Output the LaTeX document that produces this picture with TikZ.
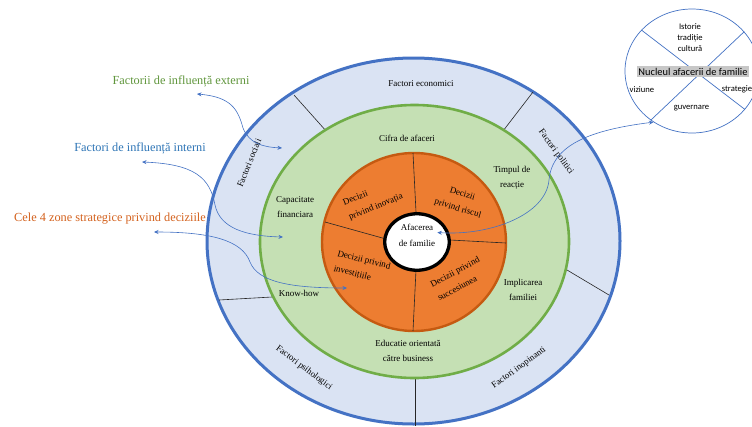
\documentclass[tikz,border=0pt]{standalone}
\usepackage{fontspec}
\setmainfont{Liberation Serif}
\newfontfamily\calibri{Carlito}
\usepackage{tikz}
\usetikzlibrary{shapes.geometric,arrows.meta}
\definecolor{outerfill}{RGB}{218,227,243}
\definecolor{outerline}{RGB}{68,114,196}
\definecolor{midfill}{RGB}{197,224,180}
\definecolor{midline}{RGB}{112,173,71}
\definecolor{innerfill}{RGB}{237,125,49}
\definecolor{innerline}{RGB}{197,90,17}
\definecolor{linkblue}{RGB}{68,114,196}
\definecolor{extgreen}{RGB}{96,150,60}
\definecolor{intblue}{RGB}{46,117,182}
\definecolor{zoneorange}{RGB}{212,98,30}

\begin{document}
\begin{tikzpicture}[
    x=1pt, y=-1pt,
    txt/.style={font=\fontsize{9}{15.5}\selectfont, align=center, inner sep=0pt},
    side/.style={font=\fontsize{12.3}{14}\selectfont, inner sep=0pt},
    nuc/.style={font=\calibri\fontsize{8.6}{11}\selectfont, align=center, inner sep=0pt},
    sep/.style={line width=0.6pt, black!85},
    link/.style={{Stealth[length=4.5pt,width=4pt]}-{Stealth[length=4.5pt,width=4pt]}, line width=0.6pt, linkblue}
]
\fill[white] (0,0) rectangle (752,426);
\clip (0,0) rectangle (752,426);

\filldraw[fill=outerfill, draw=outerline, line width=3pt] (413.5,241) ellipse (206.5pt and 183pt);
\draw[sep] (294,95) -- (327,132);
\draw[sep] (533,92) -- (503,131);
\draw[sep] (567,270) -- (609,295);
\draw[sep] (219,300) -- (272,297);
\draw[sep] (415,378) -- (415,426);

\filldraw[fill=midfill, draw=midline, line width=2.6pt] (414.5,241.5) ellipse (154.5pt and 136.5pt);
\filldraw[fill=innerfill, draw=innerline, line width=2.4pt] (414,242) ellipse (92pt and 89pt);
\draw[sep] (413,153) -- (416,212);
\draw[sep] (325,222) -- (386,239);
\draw[sep] (450,240) -- (506,243);
\draw[sep] (416,270) -- (413,331);

\node[ellipse, draw, line width=3.3pt, fill=white, minimum width=64.5pt, minimum height=56.5pt] (core) at (417,242) {};
\node[txt] (coretxt) at (417,235.5) {Afacerea\\de familie};

\node[txt] (econ) at (421,84) {Factori economici};
\node[txt, rotate=68] (soc) at (249,163) {Factori sociali};
\node[txt, rotate=-54] (pol) at (556,152) {Factori politici};
\node[txt, rotate=-37] (psi) at (304,368) {Factori psihologici};
\node[txt, rotate=36] (inop) at (519,368) {Factori inopinanti};

\node[txt] (cifra) at (407,138) {Cifra de afaceri};
\node[txt] (timp) at (512,178) {Timpul de\\reacție};
\node[txt] (cap) at (295,207) {Capacitate\\financiara};
\node[txt] (impl) at (523,290) {Implicarea\\familiei};
\node[txt] (know) at (299,293) {Know-how};
\node[txt] (edu) at (408,351) {Educatie orientată\\către business};

\node[txt, align=left, rotate=22] (inov) at (373,200) {Decizii\\privind inovația};
\node[txt, rotate=-17] (risc) at (460,201.5) {Decizii\\privind riscul};
\node[txt, align=left, rotate=-14] (inv) at (362,268) {Decizii privind\\investițiile};
\node[txt, align=left, rotate=28] (succ) at (458.5,278.5) {Decizii privind\\succesiunea};

\node[side, text=extgreen] (ext) at (181,81) {Factorii de influență externi};
\node[side, text=intblue] (int) at (140,148) {Factori de influență interni};
\node[side, text=zoneorange] (zone) at (110,219) {Cele 4 zone strategice privind deciziile};

\coordinate (extend) at (197,94);
\coordinate (extring) at (282,148);
\coordinate (intend) at (142,162);
\coordinate (intring) at (283,237);
\coordinate (zoneend) at (154,232);
\coordinate (zonering) at (347,288);

\draw[link] (extend) .. controls (232,97) and (238,110) .. (243,128) .. controls (249,143) and (262,147) .. (extring);
\draw[link] (intend) .. controls (195,164) and (210,178) .. (215,205) .. controls (220,228) and (245,236) .. (intring);
\draw[link] (zoneend) .. controls (210,232) and (242,240) .. (250,262) .. controls (258,282) and (290,288) .. (zonering);

\node[ellipse, draw=linkblue, line width=0.7pt, minimum width=134pt, minimum height=124pt, inner sep=0pt] (nucleus) at (692,71) {};
\draw[linkblue, line width=0.7pt] (nucleus.141) -- (nucleus.324);
\draw[linkblue, line width=0.7pt] (nucleus.37) -- (nucleus.230);
\node[nuc] (ist) at (690,38) {Istorie\\tradiție\\cultură};
\node[nuc, font=\calibri\fontsize{10.4}{12}\selectfont, fill=black!22, inner sep=1.5pt] (nuctxt) at (693,71.5) {Nucleul afacerii de familie};
\node[nuc] (viz) at (642,90) {viziune};
\node[nuc] (strat) at (737,89) {strategie};
\node[nuc] (guv) at (691.5,108) {guvernare};

\draw[link] (nucleus.233) .. controls (590,130) and (552,145) .. (549,180) .. controls (546,215) and (490,236) .. ([xshift=2pt,yshift=3pt]coretxt.east);
\end{tikzpicture}
\end{document}
